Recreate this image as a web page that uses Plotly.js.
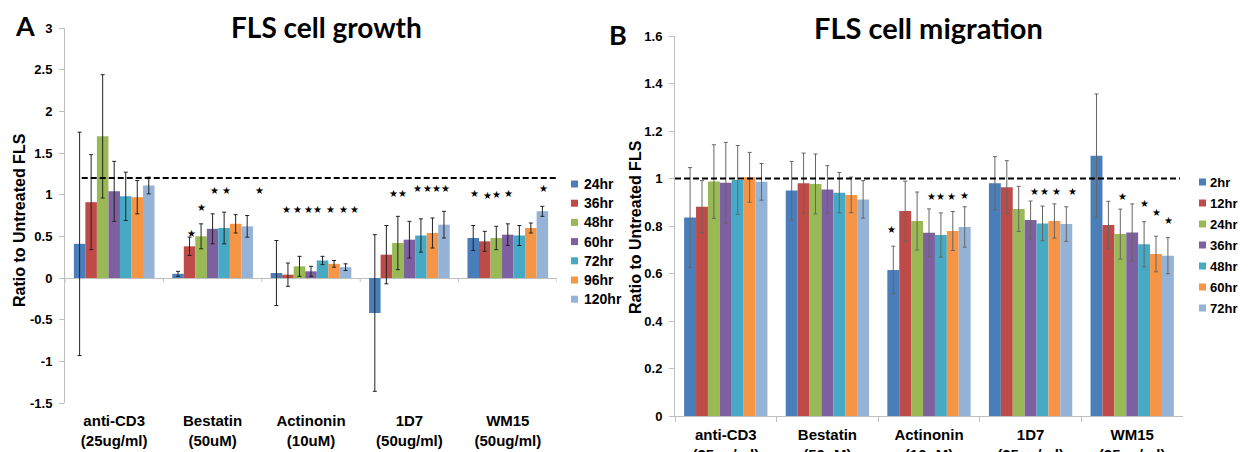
<!DOCTYPE html>
<html>
<head>
<meta charset="utf-8">
<script src="https://cdn.plot.ly/plotly-3.0.1.min.js"></script>
<style>html,body{margin:0;padding:0;background:#fff;}#chart{width:1253px;height:452px;}</style>
</head>
<body>
<div id="chart"></div>
<script>
// ---------- DATA ----------
const categoriesA = ['anti-CD3<br>(25ug/ml)', 'Bestatin<br>(50uM)', 'Actinonin<br>(10uM)', '1D7<br>(50ug/ml)', 'WM15<br>(50ug/ml)'];
const categoriesB = ['anti-CD3<br>(25ug/ml)', 'Bestatin<br>(50uM)', 'Actinonin<br>(10uM)', '1D7<br>(25ug/ml)', 'WM15<br>(25ug/ml)'];

const seriesA = ['24hr', '36hr', '48hr', '60hr', '72hr', '96hr', '120hr'];
const valuesA_24hr  = [0.41, 0.05, 0.06, -0.42, 0.48];
const valuesA_36hr  = [0.91, 0.38, 0.04, 0.28, 0.44];
const valuesA_48hr  = [1.70, 0.50, 0.14, 0.42, 0.48];
const valuesA_60hr  = [1.04, 0.59, 0.08, 0.46, 0.52];
const valuesA_72hr  = [0.98, 0.60, 0.21, 0.51, 0.51];
const valuesA_96hr  = [0.97, 0.65, 0.17, 0.54, 0.60];
const valuesA_120hr = [1.11, 0.62, 0.13, 0.64, 0.80];
const errorsA_24hr  = [1.34, 0.03, 0.39, 0.94, 0.15];
const errorsA_36hr  = [0.57, 0.11, 0.14, 0.35, 0.12];
const errorsA_48hr  = [0.74, 0.15, 0.12, 0.32, 0.14];
const errorsA_60hr  = [0.36, 0.18, 0.06, 0.22, 0.13];
const errorsA_72hr  = [0.29, 0.19, 0.05, 0.20, 0.12];
const errorsA_96hr  = [0.20, 0.11, 0.04, 0.18, 0.06];
const errorsA_120hr = [0.10, 0.13, 0.04, 0.16, 0.06];

const seriesB = ['2hr', '12hr', '24hr', '36hr', '48hr', '60hr', '72hr'];
const valuesB_2hr  = [0.836, 0.949, 0.615, 0.980, 1.096];
const valuesB_12hr = [0.881, 0.980, 0.863, 0.963, 0.804];
const valuesB_24hr = [0.987, 0.977, 0.821, 0.872, 0.766];
const valuesB_36hr = [0.982, 0.954, 0.772, 0.825, 0.773];
const valuesB_48hr = [0.994, 0.940, 0.762, 0.811, 0.723];
const valuesB_60hr = [1.005, 0.931, 0.779, 0.821, 0.682];
const valuesB_72hr = [0.986, 0.912, 0.796, 0.808, 0.675];
const errorsB_2hr  = [0.210, 0.123, 0.100, 0.112, 0.260];
const errorsB_12hr = [0.110, 0.127, 0.126, 0.112, 0.100];
const errorsB_24hr = [0.155, 0.126, 0.122, 0.095, 0.105];
const errorsB_36hr = [0.170, 0.100, 0.100, 0.080, 0.120];
const errorsB_48hr = [0.145, 0.085, 0.093, 0.073, 0.095];
const errorsB_60hr = [0.105, 0.075, 0.082, 0.072, 0.075];
const errorsB_72hr = [0.077, 0.079, 0.085, 0.073, 0.076];

// significance stars: [category serial position, y value]
const starsA_x = [0.79, 0.89, 1.02, 1.14, 1.48, 1.75, 1.86, 1.97, 2.07, 2.20, 2.33, 2.44, 2.84, 2.93, 3.08, 3.18, 3.28, 3.37, 3.66, 3.79, 3.89, 4.01, 4.36];
const starsA_y = [0.54, 0.85, 1.05, 1.05, 1.05, 0.82, 0.82, 0.82, 0.82, 0.82, 0.82, 0.82, 1.02, 1.02, 1.08, 1.08, 1.08, 1.08, 1.02, 0.99, 1.00, 1.02, 1.08];
const starsB_x = [1.63, 2.02, 2.11, 2.22, 2.35, 3.04, 3.14, 3.25, 3.41, 3.90, 4.12, 4.24, 4.36];
const starsB_y = [0.787, 0.923, 0.923, 0.923, 0.930, 0.944, 0.944, 0.944, 0.944, 0.923, 0.893, 0.855, 0.822];

const referenceA = 1.2;
const referenceB = 1.0;

const yTickValsA = [-1.5, -1, -0.5, 0, 0.5, 1, 1.5, 2, 2.5, 3];
const yTickTextA = ['-1.5', '-1', '-0.5', '0', '0.5', '1', '1.5', '2', '2.5', '3'];
const yTickValsB = [0, 0.2, 0.4, 0.6, 0.8, 1, 1.2, 1.4, 1.6];
const yTickTextB = ['0', '0.2', '0.4', '0.6', '0.8', '1', '1.2', '1.4', '1.6'];

// ---------- STYLE ----------
const colors = ['#4A7EBB', '#BE4B48', '#98B954', '#7D60A0', '#46AAC5', '#F69545', '#95B3D7'];
const W = 1253, H = 452;
const fx = p => p / W;
const fy = p => 1 - p / H;
const sans = 'Liberation Sans, Arial, sans-serif';
const titleFont = 'Lato, Open Sans, sans-serif';
const axisGray = '#bfbfbf';

const valuesA = [valuesA_24hr, valuesA_36hr, valuesA_48hr, valuesA_60hr, valuesA_72hr, valuesA_96hr, valuesA_120hr];
const errorsA = [errorsA_24hr, errorsA_36hr, errorsA_48hr, errorsA_60hr, errorsA_72hr, errorsA_96hr, errorsA_120hr];
const valuesB = [valuesB_2hr, valuesB_12hr, valuesB_24hr, valuesB_36hr, valuesB_48hr, valuesB_60hr, valuesB_72hr];
const errorsB = [errorsB_2hr, errorsB_12hr, errorsB_24hr, errorsB_36hr, errorsB_48hr, errorsB_60hr, errorsB_72hr];

const traces = [];
seriesA.forEach((name, i) => {
  traces.push({
    type: 'bar', name: name, x: categoriesA, y: valuesA[i],
    xaxis: 'x', yaxis: 'y', marker: {color: colors[i]}, showlegend: false,
    error_y: {type: 'data', array: errorsA[i], visible: true, color: '#222', thickness: 1, width: 2}
  });
});
seriesB.forEach((name, i) => {
  traces.push({
    type: 'bar', name: name, x: categoriesB, y: valuesB[i],
    xaxis: 'x2', yaxis: 'y2', marker: {color: colors[i]}, showlegend: false,
    error_y: {type: 'data', array: errorsB[i], visible: true, color: '#666', thickness: 1, width: 2}
  });
});

const annotations = [];
const shapes = [];

// titles and panel letters
annotations.push({xref: 'paper', yref: 'paper', x: fx(326), y: fy(27), xanchor: 'center', yanchor: 'middle', showarrow: false,
  text: 'FLS cell growth', font: {family: titleFont, size: 28, weight: 'bold', color: '#000'}});
annotations.push({xref: 'paper', yref: 'paper', x: fx(928), y: fy(27), xanchor: 'center', yanchor: 'middle', showarrow: false,
  text: 'FLS cell migration', font: {family: titleFont, size: 29, weight: 'bold', color: '#000'}});
annotations.push({xref: 'paper', yref: 'paper', x: fx(25), y: fy(25), xanchor: 'center', yanchor: 'middle', showarrow: false,
  text: 'A', font: {family: titleFont, size: 27, weight: 'bold', color: '#000'}});
annotations.push({xref: 'paper', yref: 'paper', x: fx(618), y: fy(34), xanchor: 'center', yanchor: 'middle', showarrow: false,
  text: 'B', font: {family: titleFont, size: 27, weight: 'bold', color: '#000'}});

// y axis titles
annotations.push({xref: 'paper', yref: 'paper', x: fx(19), y: fy(220), xanchor: 'center', yanchor: 'middle', showarrow: false, textangle: -90,
  text: 'Ratio to Untreated FLS', font: {family: sans, size: 16, weight: 'bold', color: '#000'}});
annotations.push({xref: 'paper', yref: 'paper', x: fx(636), y: fy(227), xanchor: 'center', yanchor: 'middle', showarrow: false, textangle: -90,
  text: 'Ratio to Untreated FLS', font: {family: sans, size: 16, weight: 'bold', color: '#000'}});

// stars
starsA_x.forEach((x, i) => annotations.push({xref: 'x', yref: 'y', x: x, y: starsA_y[i], showarrow: false, text: '★',
  xanchor: 'center', yanchor: 'middle', font: {family: 'DejaVu Sans', size: 10, color: '#000'}}));
starsB_x.forEach((x, i) => annotations.push({xref: 'x2', yref: 'y2', x: x, y: starsB_y[i], showarrow: false, text: '★',
  xanchor: 'center', yanchor: 'middle', font: {family: 'DejaVu Sans', size: 10, color: '#000'}}));

// legends
seriesA.forEach((name, i) => {
  const cy = 184 + i * 19.2;
  shapes.push({type: 'rect', xref: 'paper', yref: 'paper', x0: fx(571), x1: fx(578), y0: fy(cy + 3.5), y1: fy(cy - 3.5),
    fillcolor: colors[i], line: {width: 0}});
  annotations.push({xref: 'paper', yref: 'paper', x: fx(582), y: fy(cy), xanchor: 'left', yanchor: 'middle', showarrow: false,
    text: name, font: {family: sans, size: 14, weight: 'bold', color: '#000'}});
});
seriesB.forEach((name, i) => {
  const cy = 182 + i * 21;
  shapes.push({type: 'rect', xref: 'paper', yref: 'paper', x0: fx(1199), x1: fx(1206), y0: fy(cy + 3.5), y1: fy(cy - 3.5),
    fillcolor: colors[i], line: {width: 0}});
  annotations.push({xref: 'paper', yref: 'paper', x: fx(1208), y: fy(cy), xanchor: 'left', yanchor: 'middle', showarrow: false,
    text: name, font: {family: sans, size: 13, weight: 'bold', color: '#000'}});
});

// reference dashed lines
shapes.push({type: 'line', xref: 'x', yref: 'y', x0: -0.33, x1: 4.53, y0: referenceA, y1: referenceA,
  line: {color: '#000', width: 2, dash: '6px,3px'}});
shapes.push({type: 'line', xref: 'x2', yref: 'y2', x0: -0.5, x1: 4.47, y0: referenceB, y1: referenceB,
  line: {color: '#000', width: 2, dash: '6px,3px'}});

// category boundary ticks on the zero line of panel A
for (let k = 0; k <= categoriesA.length; k++) {
  shapes.push({type: 'line', xref: 'x', yref: 'y', x0: k - 0.5, x1: k - 0.5, y0: 0, y1: -0.05,
    line: {color: axisGray, width: 1}});
}

const tickFontX = {family: sans, size: 15, weight: 'bold', color: '#000'};

const layout = {
  width: W, height: H,
  margin: {l: 0, r: 0, t: 0, b: 0},
  paper_bgcolor: '#fff', plot_bgcolor: 'rgba(0,0,0,0)',
  barmode: 'group', bargap: 0.18, bargroupgap: 0,
  showlegend: false,
  xaxis: {domain: [fx(65), fx(557)], anchor: 'y', type: 'category', range: [-0.5, 4.5],
    showline: false, ticks: '', showgrid: false, zeroline: false, tickfont: tickFontX, ticklabelstandoff: 7},
  yaxis: {domain: [fy(403), fy(28)], anchor: 'x', range: [-1.5, 3], tickvals: yTickValsA, ticktext: yTickTextA,
    ticks: 'outside', ticklen: 5, tickcolor: axisGray, showline: true, linecolor: axisGray, linewidth: 1,
    showgrid: false, zeroline: true, zerolinecolor: axisGray, zerolinewidth: 1,
    tickfont: {family: sans, size: 13, weight: 'bold', color: '#000'}, ticklabelstandoff: 4},
  xaxis2: {domain: [fx(675), fx(1183)], anchor: 'y2', type: 'category', range: [-0.5, 4.5],
    showline: true, linecolor: axisGray, ticks: 'outside', tickson: 'boundaries', ticklen: 5, tickcolor: axisGray,
    showgrid: false, zeroline: false, tickfont: tickFontX, ticklabelstandoff: 5},
  yaxis2: {domain: [fy(416), fy(36)], anchor: 'x2', range: [0, 1.6], tickvals: yTickValsB, ticktext: yTickTextB,
    ticks: 'outside', ticklen: 5, tickcolor: axisGray, showline: true, linecolor: axisGray, linewidth: 1,
    showgrid: false, zeroline: false,
    tickfont: {family: sans, size: 13, weight: 'bold', color: '#000'}, ticklabelstandoff: 4},
  annotations: annotations,
  shapes: shapes
};

Plotly.newPlot('chart', traces, layout, {staticPlot: true, displayModeBar: false});
</script>
</body>
</html>
